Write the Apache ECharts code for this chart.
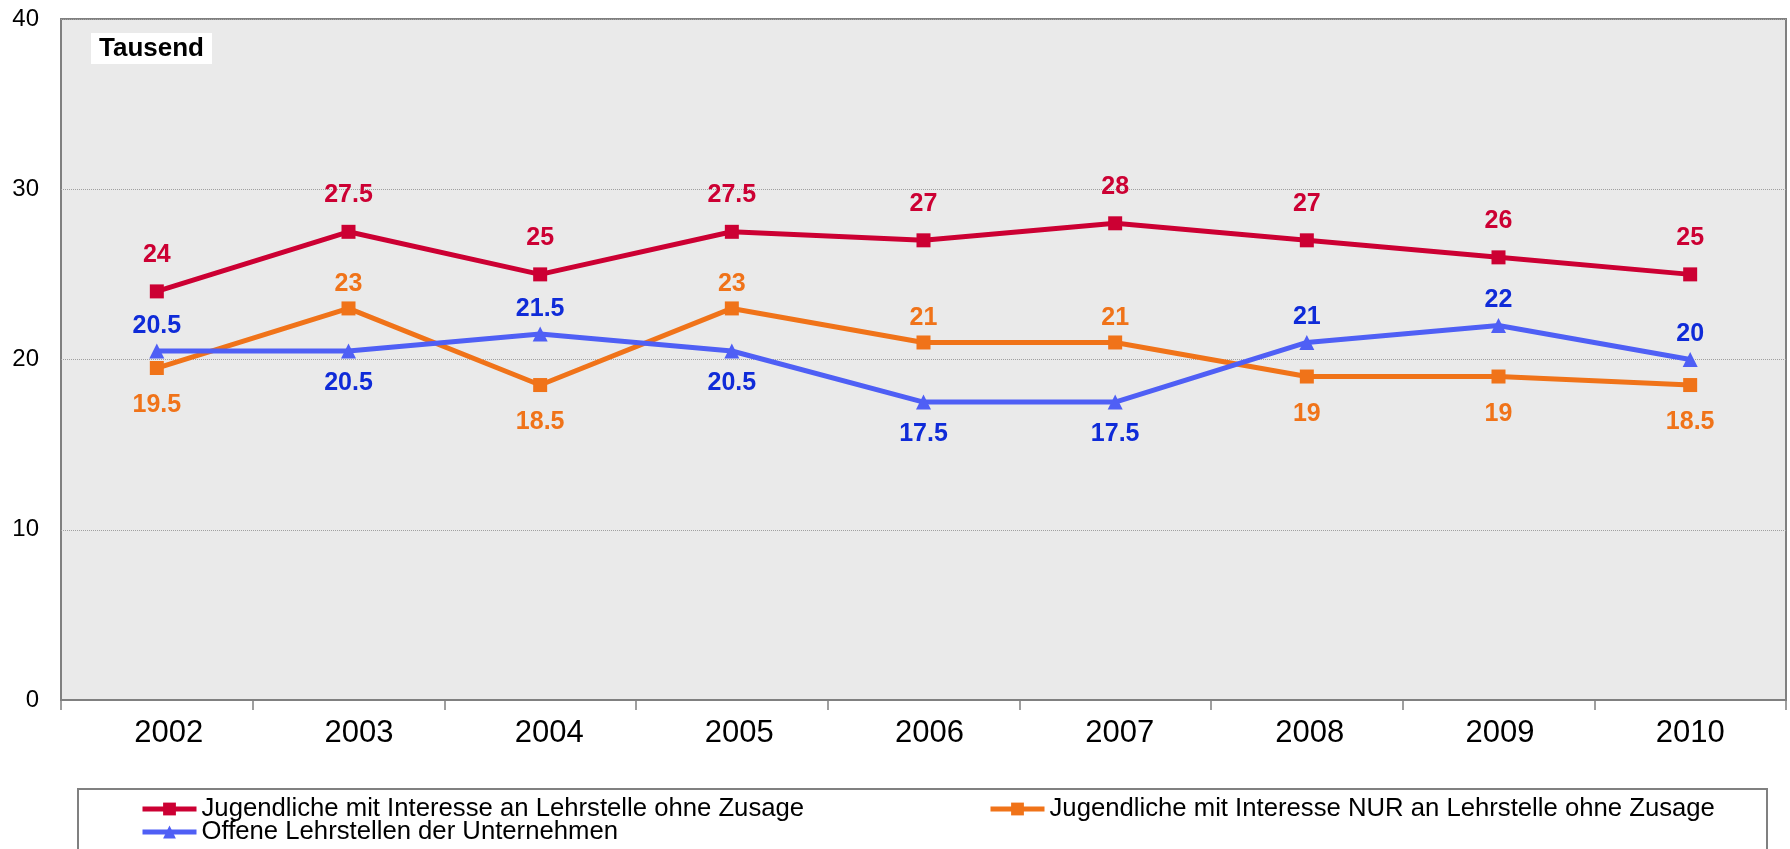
<!DOCTYPE html>
<html>
<head>
<meta charset="utf-8">
<script src="https://cdn.jsdelivr.net/npm/echarts@6/dist/echarts.min.js"></script>
<style>
html, body { margin: 0; padding: 0; background: #ffffff; }
#chart { width: 1790px; height: 849px; }
</style>
</head>
<body>
<div id="chart"></div>
<script>
const years = ['2002', '2003', '2004', '2005', '2006', '2007', '2008', '2009', '2010'];
const jugendlicheInteresse = [24, 27.5, 25, 27.5, 27, 28, 27, 26, 25];
const jugendlicheNur = [19.5, 23, 18.5, 23, 21, 21, 19, 19, 18.5];
const offeneLehrstellen = [20.5, 20.5, 21.5, 20.5, 17.5, 17.5, 21, 22, 20];
const yTicks = [0, 10, 20, 30, 40];

const names = [
  'Jugendliche mit Interesse an Lehrstelle ohne Zusage',
  'Jugendliche mit Interesse NUR an Lehrstelle ohne Zusage',
  'Offene Lehrstellen der Unternehmen'
];
const FONT = 'Liberation Sans, Arial, sans-serif';
const RED = '#CC0033', ORANGE = '#F07319', BLUE_LINE = '#4F5FF5', BLUE_TEXT = '#0F2BD8';

// place label above if this series is above the other series at that year
function withLabels(values, other, upDist, downDist) {
  return values.map((v, i) => {
    const up = v >= other[i];
    return {
      value: v,
      label: { position: up ? 'top' : 'bottom', distance: up ? upDist : downDist }
    };
  });
}

// the original's category labels drift slightly right of the category centres, most at the left
const xRich = {};
years.forEach((y, i) => {
  const shift = Math.round(24 * (years.length - 1 - i) / (years.length - 1));
  xRich['p' + i] = { fontFamily: FONT, fontSize: 31, color: '#000', padding: [0, 0, 0, shift] };
});

const legendBase = {
  padding: 0,
  itemWidth: 54, itemHeight: 16, itemGap: 6, z: 5,
  lineStyle: { width: 5 },
  textStyle: { fontFamily: FONT, fontSize: 25.7, color: '#000' }
};

const chart = echarts.init(document.getElementById('chart'), null, { renderer: 'canvas' });
chart.setOption({
  animation: false,
  backgroundColor: '#ffffff',
  title: {
    text: 'Tausend',
    left: 91, top: 33,
    backgroundColor: '#ffffff',
    padding: [3, 8, 2, 8],
    textStyle: { fontFamily: FONT, fontWeight: 'bold', fontSize: 26, color: '#000', lineHeight: 26 }
  },
  graphic: [{
    type: 'rect', z: 0,
    shape: { x: 78, y: 789, width: 1689, height: 90 },
    style: { fill: '#ffffff', stroke: '#808080', lineWidth: 2 }
  }],
  legend: [
    Object.assign({ data: [names[0]], left: 140, top: 796 }, legendBase),
    Object.assign({ data: [names[1]], left: 988, top: 796 }, legendBase),
    Object.assign({ data: [names[2]], left: 140, top: 819 }, legendBase)
  ],
  grid: {
    left: 61, right: 4, top: 19, bottom: 149,
    show: true, backgroundColor: '#EAEAEA', borderColor: '#808080', borderWidth: 2,
    containLabel: false
  },
  xAxis: {
    type: 'category',
    data: years,
    boundaryGap: true,
    axisLine: { show: true, lineStyle: { color: '#808080', width: 2 } },
    axisTick: { show: true, interval: 0, length: 10, lineStyle: { color: '#808080', width: 1.5 } },
    axisLabel: {
      fontFamily: FONT, fontSize: 31, color: '#000', margin: 18, interval: 0,
      formatter: (val, idx) => '{p' + idx + '|' + val + '}',
      rich: xRich
    },
    splitLine: { show: false }
  },
  yAxis: {
    type: 'value',
    min: yTicks[0], max: yTicks[yTicks.length - 1], interval: 10,
    axisLine: { show: false },
    axisTick: { show: false },
    axisLabel: { fontFamily: FONT, fontSize: 24, color: '#000', margin: 22 },
    splitLine: { show: true, lineStyle: { color: '#A0A0A0', width: 1, type: 'dotted' } }
  },
  series: [
    {
      name: names[0], type: 'line', data: jugendlicheInteresse,
      symbol: 'rect', symbolSize: 14, z: 3,
      lineStyle: { color: RED, width: 5 }, itemStyle: { color: RED },
      label: { show: true, position: 'top', distance: 17, fontFamily: FONT, fontSize: 25, fontWeight: 'bold', color: RED }
    },
    {
      name: names[1], type: 'line', data: withLabels(jugendlicheNur, offeneLehrstellen, 5, 18),
      symbol: 'rect', symbolSize: 14, z: 2,
      lineStyle: { color: ORANGE, width: 5 }, itemStyle: { color: ORANGE },
      label: { show: true, fontFamily: FONT, fontSize: 25, fontWeight: 'bold', color: ORANGE }
    },
    {
      name: names[2], type: 'line', data: withLabels(offeneLehrstellen, jugendlicheNur, 5, 12),
      symbol: 'triangle', symbolSize: 15, z: 2,
      lineStyle: { color: BLUE_LINE, width: 5 }, itemStyle: { color: BLUE_LINE },
      label: { show: true, fontFamily: FONT, fontSize: 25, fontWeight: 'bold', color: BLUE_TEXT }
    }
  ]
});
</script>
</body>
</html>
